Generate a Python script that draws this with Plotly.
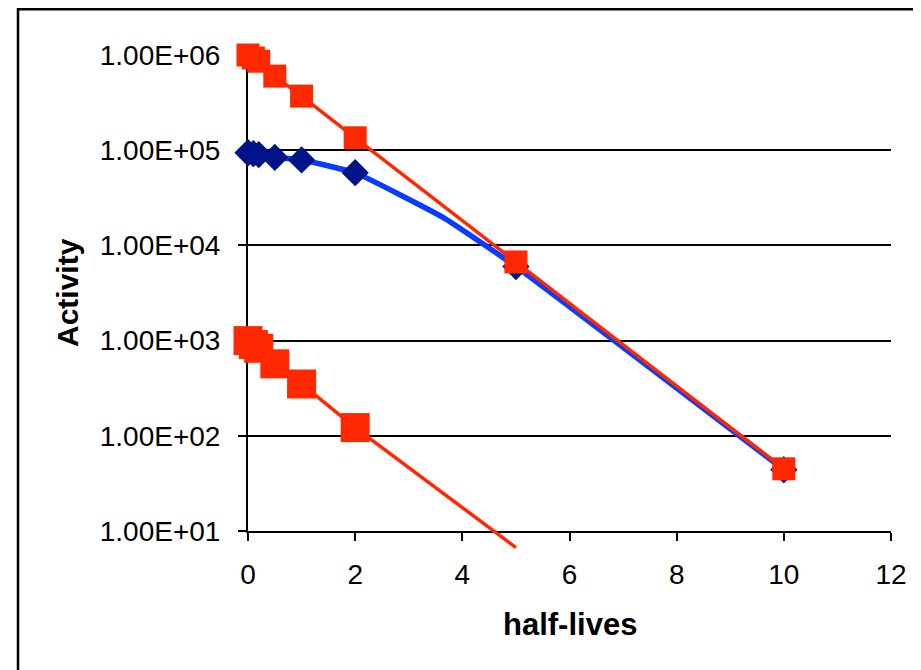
import plotly.graph_objects as go

# ---- data ----
half_lives = [0, 0.1, 0.2, 0.5, 1, 2, 5, 10]
activity_high = [1.0e6, 9.3e5, 8.6e5, 6.0e5, 3.7e5, 1.35e5, 6.7e3, 45]

half_lives_low = [0, 0.1, 0.2, 0.5, 1, 2, 5]
activity_low = [1000, 910, 830, 570, 350, 122, 6.7]

diamond_x = [0, 0.1, 0.2, 0.5, 1, 2, 5, 10]
diamond_vals = [9.4e4, 9.2e4, 9.0e4, 8.4e4, 7.9e4, 5.8e4, 6.0e3, 44]

curve_x = [0, 0.1, 0.2, 0.5, 1, 2, 3.64, 5, 10]
curve_vals = [9.4e4, 9.2e4, 9.0e4, 8.4e4, 7.9e4, 5.8e4, 1.97e4, 6.0e3, 44]

y_tickvals = [1e1, 1e2, 1e3, 1e4, 1e5, 1e6]
y_ticktext = ["1.00E+01", "1.00E+02", "1.00E+03", "1.00E+04", "1.00E+05", "1.00E+06"]
x_tickvals = [0, 2, 4, 6, 8, 10, 12]

RED = "#FF2800"
BLUE = "#0A3CFF"
NAVY = "#001489"
FONT = "Arial, Liberation Sans, sans-serif"

# page body margin offsets the figure by 8px; lay out in figure pixels
OFF = 8
W, H = 921 - OFF, 670 - OFF
ML = 248 - OFF
MR = W - (891 - OFF)
MT = 55 - OFF
MB = 100
plot_h = H - MT - MB
axis_bottom_px = 531 - OFF
px_per_decade = (axis_bottom_px - MT) / 5.0
y_dom0 = (H - MB - axis_bottom_px) / plot_h
low_range_bottom = 6 - plot_h / px_per_decade

def px_to_paper_x(px_ref):
    return (px_ref - OFF - ML) / (W - ML - MR)

def px_to_paper_y(py_ref):
    return (H - MB - (py_ref - OFF)) / plot_h

fig = go.Figure()

fig.add_trace(go.Scatter(
    x=curve_x, y=curve_vals, mode="lines",
    line=dict(color=BLUE, width=5.5, shape="spline", smoothing=0.35),
    xaxis="x", yaxis="y", showlegend=False, hoverinfo="skip"))
fig.add_trace(go.Scatter(
    x=diamond_x, y=diamond_vals, mode="markers", cliponaxis=False,
    marker=dict(symbol="diamond", size=21, color=NAVY, opacity=1, line=dict(width=0)),
    xaxis="x", yaxis="y", showlegend=False))
fig.add_trace(go.Scatter(
    x=half_lives, y=activity_high, mode="lines+markers", cliponaxis=False,
    line=dict(color=RED, width=3.5),
    marker=dict(symbol="square", size=23, color=RED, opacity=1, line=dict(width=0)),
    xaxis="x", yaxis="y", showlegend=False))

low_sizes = [29 if v >= 10 else 0 for v in activity_low]
fig.add_trace(go.Scatter(
    x=half_lives_low, y=activity_low, mode="lines+markers", cliponaxis=False,
    line=dict(color=RED, width=3.5),
    marker=dict(symbol="square", size=low_sizes, color=RED, opacity=1,
                line=dict(width=0)),
    xaxis="x3", yaxis="y3", showlegend=False))

axis_font = dict(family=FONT, size=28, color="black")

fig.update_layout(
    width=W, height=H,
    margin=dict(l=ML, r=MR, t=MT, b=MB, pad=0),
    paper_bgcolor="white", plot_bgcolor="rgba(0,0,0,0)",
    font=dict(family=FONT, color="black"),
    xaxis=dict(domain=[0, 1], anchor="y", range=[0, 12], tickvals=x_tickvals,
               showgrid=False, zeroline=False, showline=True, linecolor="black",
               linewidth=2, ticks="outside", ticklen=8, tickwidth=2,
               tickcolor="black", tickfont=axis_font, layer="below traces",
               ticklabelstandoff=9),
    yaxis=dict(domain=[y_dom0, 1], anchor="x", type="log", range=[1, 6],
               tickvals=y_tickvals, ticktext=y_ticktext,
               showgrid=True, gridcolor="black", gridwidth=1.5,
               zeroline=False, showline=True, linecolor="black", linewidth=2,
               ticks="outside", ticklen=8, tickwidth=2, tickcolor="black",
               tickfont=axis_font, layer="below traces", ticklabelstandoff=12),
    xaxis2=dict(overlaying="x", anchor="y", side="top", range=[0, 12],
                showgrid=False, zeroline=False, showline=True,
                linecolor="#808080", linewidth=2, showticklabels=False,
                ticks="", layer="below traces"),
    yaxis2=dict(overlaying="y", anchor="x", side="right", type="log",
                range=[1, 6], showgrid=False, zeroline=False, showline=True,
                linecolor="#808080", linewidth=2, showticklabels=False,
                ticks="", layer="below traces"),
    xaxis3=dict(domain=[0, 1], anchor="y3", range=[0, 12], visible=False),
    yaxis3=dict(domain=[0, 1], anchor="x3", type="log",
                range=[low_range_bottom, 6], visible=False),
    annotations=[
        dict(text="<b>Activity</b>", xref="paper", yref="paper",
             x=px_to_paper_x(67), y=px_to_paper_y(293), textangle=-90,
             showarrow=False, xanchor="center", yanchor="middle",
             font=dict(family=FONT, size=30, color="black")),
        dict(text="<b>half-lives</b>", xref="paper", yref="paper",
             x=px_to_paper_x(569.5), y=px_to_paper_y(624),
             showarrow=False, xanchor="center", yanchor="middle",
             font=dict(family=FONT, size=31, color="black")),
    ],
    shapes=[
        dict(type="rect", xref="paper", yref="paper",
             x0=px_to_paper_x(18), x1=px_to_paper_x(940),
             y0=px_to_paper_y(700), y1=px_to_paper_y(9.2),
             line=dict(color="black", width=2.5), layer="below"),
    ],
)

fig.write_html("out.html")
